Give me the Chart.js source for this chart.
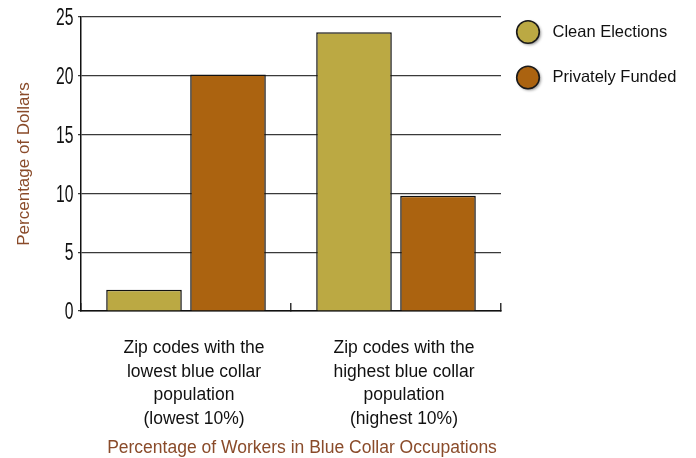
<!DOCTYPE html>
<html>
<head>
<meta charset="utf-8">
<script src="https://cdn.jsdelivr.net/npm/chart.js@4/dist/chart.umd.min.js"></script>
<style>
  html, body { margin: 0; padding: 0; background: #ffffff; }
  #wrap { position: relative; width: 696px; height: 458px; }
</style>
</head>
<body>
<div id="wrap"><canvas id="chart" width="696" height="458"></canvas></div>
<script>
// Categories (multi-line tick labels)
const categories = [
  ["Zip codes with the", "lowest blue collar", "population", "(lowest 10%)"],
  ["Zip codes with the", "highest blue collar", "population", "(highest 10%)"]
];

// Series values (percentage of dollars)
const cleanElections = [1.8, 23.7];
const privatelyFunded = [20.1, 9.8];

// Series names
const seriesNames = ["Clean Elections", "Privately Funded"];

// Value axis ticks
const yTicks = [0, 5, 10, 15, 20, 25];

// Axis titles
const yTitle = "Percentage of Dollars";
const xTitle = "Percentage of Workers in Blue Collar Occupations";

const FONT = "'Liberation Sans', Arial, sans-serif";
const TITLE_COLOR = "#8a4b2a";
const colors = ["#bba943", "#ab6310"];

// Condensed numerals for the value axis, placed at the scale's own tick pixels
const narrowTicks = {
  id: "narrowTicks",
  afterDraw(chart) {
    const scale = chart.scales.y;
    const ctx = chart.ctx;
    const squeeze = 0.64;
    ctx.save();
    ctx.fillStyle = "#111";
    ctx.font = "24.5px " + FONT;
    ctx.textAlign = "right";
    ctx.textBaseline = "middle";
    scale.ticks.forEach((t) => {
      const y = scale.getPixelForValue(t.value);
      const x = scale.right - 7.5;
      ctx.save();
      ctx.translate(x, y + 1.5);
      ctx.scale(squeeze, 1);
      ctx.fillText(String(t.value), 0, 0);
      ctx.restore();
    });
    ctx.restore();
  }
};

// Circular legend on the right of the plot
const circleLegend = {
  id: "circleLegend",
  afterDraw(chart) {
    const ctx = chart.ctx;
    const area = chart.chartArea;
    chart.data.datasets.forEach((ds, i) => {
      const cx = area.right + 27;
      const cy = area.top + 15 + i * 45.5;
      ctx.save();
      ctx.shadowColor = "rgba(0,0,0,0.45)";
      ctx.shadowBlur = 3;
      ctx.shadowOffsetX = 1.5;
      ctx.shadowOffsetY = 1.5;
      ctx.beginPath();
      ctx.arc(cx, cy, 11.3, 0, Math.PI * 2);
      ctx.fillStyle = ds.backgroundColor;
      ctx.fill();
      ctx.shadowColor = "transparent";
      ctx.lineWidth = 1.6;
      ctx.strokeStyle = "#1a1a1a";
      ctx.stroke();
      ctx.fillStyle = "#111";
      ctx.font = "16.5px " + FONT;
      ctx.textBaseline = "middle";
      ctx.textAlign = "left";
      ctx.fillText(ds.label, cx + 24.5, cy);
      ctx.restore();
    });
  }
};

// Category axis title below the tick labels
const xAxisTitle = {
  id: "xAxisTitle",
  afterDraw(chart) {
    const ctx = chart.ctx;
    const area = chart.chartArea;
    ctx.save();
    ctx.fillStyle = TITLE_COLOR;
    ctx.font = "17.5px " + FONT;
    ctx.textAlign = "center";
    ctx.textBaseline = "middle";
    ctx.fillText(xTitle, (area.left + area.right) / 2 + 11, chart.height - 10);
    ctx.restore();
  }
};

new Chart(document.getElementById("chart"), {
  type: "bar",
  data: {
    labels: categories,
    datasets: [
      {
        label: seriesNames[0],
        data: cleanElections,
        backgroundColor: colors[0],
        borderColor: "#111",
        borderWidth: 1.5
      },
      {
        label: seriesNames[1],
        data: privatelyFunded,
        backgroundColor: colors[1],
        borderColor: "#111",
        borderWidth: 1.5
      }
    ]
  },
  options: {
    responsive: false,
    animation: false,
    devicePixelRatio: 1,
    layout: { padding: { top: 17, right: 195, left: 0, bottom: 0 } },
    plugins: {
      legend: { display: false },
      tooltip: { enabled: false }
    },
    datasets: {
      bar: { categoryPercentage: 0.8, barPercentage: 0.9 }
    },
    scales: {
      x: {
        afterFit(scale) { scale.height = 147; },
        border: { display: true, color: "#111", width: 1.5 },
        grid: {
          display: true,
          drawOnChartArea: false,
          drawTicks: true,
          tickLength: -8,
          color: "#333",
          lineWidth: 1.5,
          offset: true
        },
        ticks: {
          color: "#111",
          font: { family: FONT, size: 17.5, lineHeight: 1.36 },
          padding: 33,
          labelOffset: 8,
          maxRotation: 0
        }
      },
      y: {
        min: 0,
        max: 25,
        afterFit(scale) { scale.width = 81; },
        afterBuildTicks(scale) { scale.ticks = yTicks.map(v => ({ value: v })); },
        border: { display: true, color: "#111", width: 1.5 },
        grid: {
          color: "#3a3a3a",
          lineWidth: 1.2,
          drawTicks: true,
          tickLength: 3
        },
        ticks: { display: false },
        title: {
          display: true,
          text: yTitle,
          color: TITLE_COLOR,
          font: { family: FONT, size: 17 },
          padding: { top: 14, bottom: 0 }
        }
      }
    }
  },
  plugins: [narrowTicks, circleLegend, xAxisTitle]
});
</script>
</body>
</html>
